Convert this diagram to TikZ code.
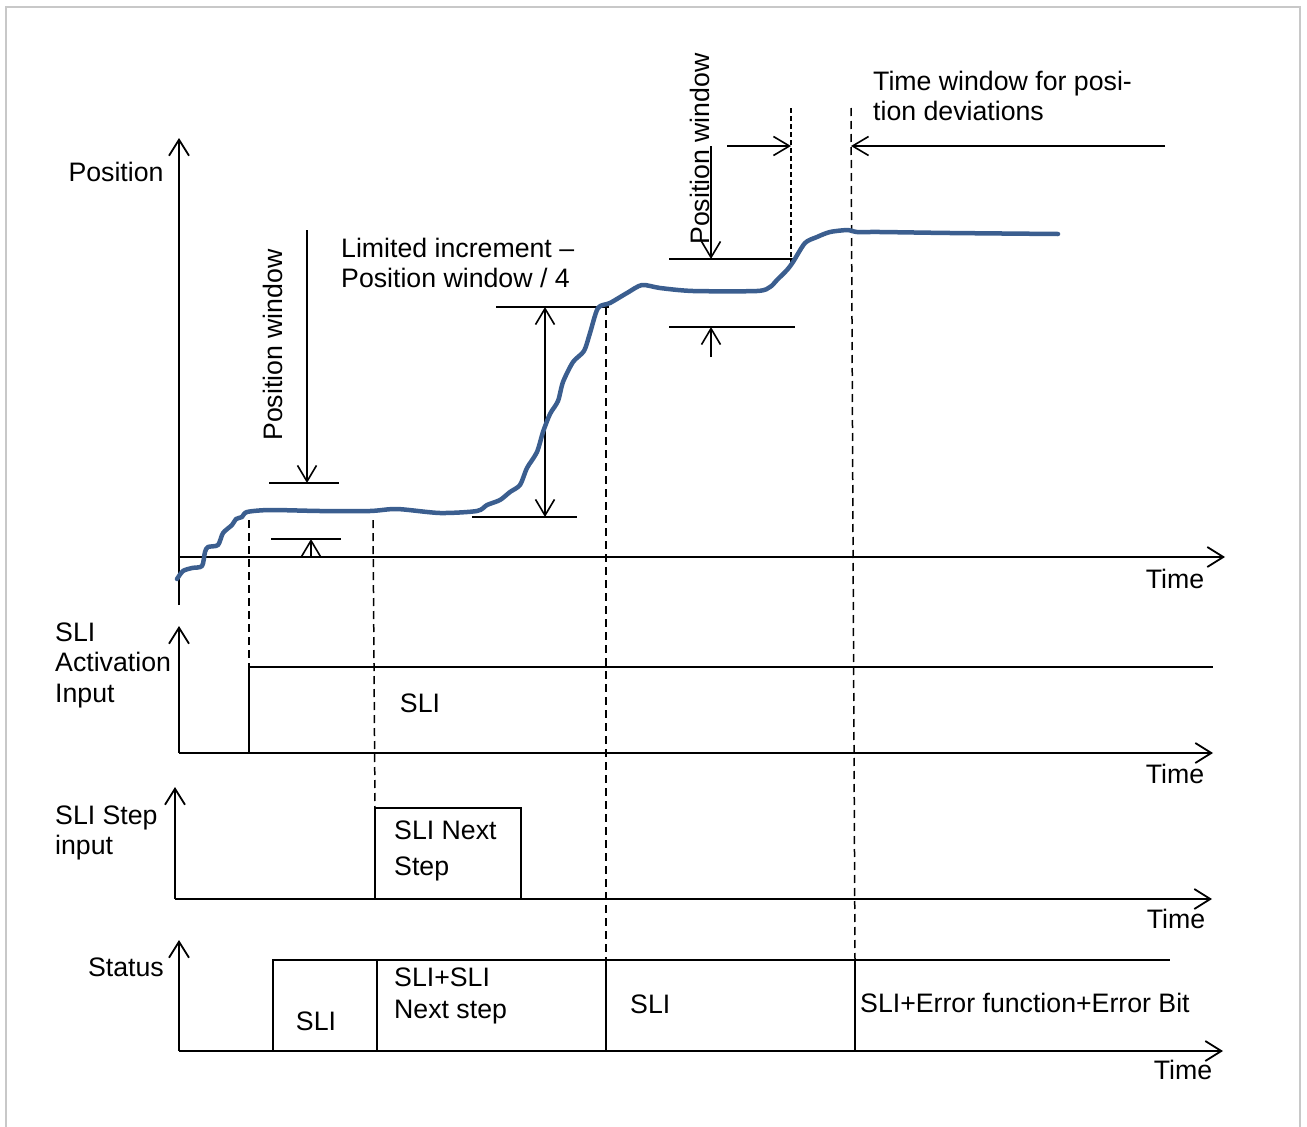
\documentclass[tikz,border=0pt]{standalone}
\usepackage{fontspec}
\setmainfont{Liberation Sans}
\usetikzlibrary{arrows.meta}
\definecolor{curveblue}{RGB}{59,94,143}
\definecolor{framegray}{RGB}{200,200,200}
\begin{document}
\begin{tikzpicture}[x=1pt,y=-1pt,
  axis/.style={line width=2pt,-{Straight Barb[length=16pt,width=20pt,line width=1.8pt]}},
  tickline/.style={line width=1.6pt},
  dimarrow/.style={line width=1.6pt,-{Straight Barb[length=16pt,width=19pt,line width=1.6pt]}},
  dimboth/.style={line width=1.6pt,{Straight Barb[length=16pt,width=19pt,line width=1.6pt]}-{Straight Barb[length=16pt,width=19pt,line width=1.6pt]}},
  guide/.style={line width=1.5pt,dash pattern=on 8pt off 5pt},
  fineguide/.style={line width=1.3pt,dash pattern=on 5pt off 3pt},
  signal/.style={line width=2pt},
  thinsignal/.style={line width=1.6pt},
  lbl/.style={inner sep=0pt,font=\fontsize{26.7}{30.5}\selectfont},
]
\useasboundingbox (0,0) rectangle (1307,1127);
\draw[framegray,line width=2pt] (6,1127) -- (6,7) -- (1300,7) -- (1300,1127);

% ---------- coordinates: position chart ----------
\coordinate (pBot) at (179,605);
\coordinate (pTop) at (179,138);
\coordinate (pO) at (179,557);
\coordinate (pEnd) at (1225,557);
% left position window
\coordinate (w1s) at (307,230);
\coordinate (w1e) at (307,483);
\coordinate (w1tl) at (269,483);
\coordinate (w1tr) at (339,483);
\coordinate (w1bl) at (271,539);
\coordinate (w1br) at (341,539);
\coordinate (w1us) at (311,557);
\coordinate (w1ue) at (311,539);
% limited increment
\coordinate (liTl) at (496,307);
\coordinate (liTr) at (609,307);
\coordinate (liBl) at (472,517);
\coordinate (liBr) at (577,517);
\coordinate (liT) at (545,307);
\coordinate (liB) at (545,517);
% right position window
\coordinate (w2tl) at (669,259);
\coordinate (w2tr) at (793,259);
\coordinate (w2s) at (711,146);
\coordinate (w2e) at (711,259);
\coordinate (w2bl) at (669,327);
\coordinate (w2br) at (795,327);
\coordinate (w2us) at (711,357);
\coordinate (w2ue) at (711,327);
% time window
\coordinate (twLs) at (727,146);
\coordinate (twLe) at (791,146);
\coordinate (twRs) at (1165,146);
\coordinate (twRe) at (851,146);
% guides
\coordinate (g1a) at (249,520);
\coordinate (g2a) at (373,520);
\coordinate (g3a) at (606,307);
\coordinate (g4a) at (851,108);
\coordinate (g5a) at (791,108);
\coordinate (g5b) at (791,265);

% ---------- coordinates: SLI activation ----------
\coordinate (aO) at (179,753);
\coordinate (aTop) at (179,626);
\coordinate (aEnd) at (1213,753);
\coordinate (aRise0) at (249,753);
\coordinate (aRise1) at (249,667);
\coordinate (aHighEnd) at (1213,667);

% ---------- coordinates: SLI step ----------
\coordinate (sO) at (175,899);
\coordinate (sTop) at (175,787);
\coordinate (sEnd) at (1212,899);
\coordinate (sR0) at (375,899);
\coordinate (sR1) at (375,808);
\coordinate (sF1) at (521,808);
\coordinate (sF0) at (521,899);

% ---------- coordinates: status ----------
\coordinate (tO) at (179,1051);
\coordinate (tTop) at (179,940);
\coordinate (tEnd) at (1223,1051);
\coordinate (tTopL) at (273,960);
\coordinate (tTopR) at (1170,960);
\coordinate (tA0) at (273,1051);
\coordinate (tB1) at (377,960);
\coordinate (tB0) at (377,1051);
\coordinate (tC1) at (606,960);
\coordinate (tC0) at (606,1051);
\coordinate (tD1) at (855,960);
\coordinate (tD0) at (855,1051);

% ---------- position chart ----------
\draw[axis] (pBot) -- (pTop);
\draw[axis] (pO) -- (pEnd);

\draw[dimarrow] (w1s) -- (w1e);
\draw[tickline] (w1tl) -- (w1tr);
\draw[tickline] (w1bl) -- (w1br);
\draw[dimarrow] (w1us) -- (w1ue);

\draw[tickline] (liTl) -- (liTr);
\draw[tickline] (liBl) -- (liBr);
\draw[dimboth] (liT) -- (liB);

\draw[tickline] (w2tl) -- (w2tr);
\draw[dimarrow] (w2s) -- (w2e);
\draw[tickline] (w2bl) -- (w2br);
\draw[dimarrow] (w2us) -- (w2ue);

\draw[dimarrow] (twLs) -- (twLe);
\draw[dimarrow] (twRs) -- (twRe);

\draw[guide] (g1a) -- (aRise1);
\draw[guide] (g2a) -- (sR1);
\draw[guide] (g3a) -- (tC1);
\draw[guide] (g4a) -- (tD1);
\draw[fineguide] (g5a) -- (g5b);

\draw[curveblue,line width=4.5pt,line join=round,line cap=round]
  plot[smooth,tension=0.45] coordinates {
  (177,579) (183,571) (192,568) (202,566) (205,552) (208,547) (218,545)
  (223,533) (232,525) (236,519) (242,517) (247,512) (270,510) (320,511)
  (370,511) (397,509) (440,513) (477,511) (487,505) (500,500) (510,492)
  (520,485) (527,468) (537,452) (543,432) (550,414) (558,401) (563,382)
  (573,362) (584,351) (590,333) (598,308) (610,303) (627,293) (642,285)
  (660,288) (693,291) (757,291) (770,287) (777,280) (787,270) (793,262)
  (805,243) (817,237) (830,232) (848,230) (857,232) (880,232) (950,233)
  (1058,234)};

\node[lbl] (lPos) at (116,172) {Position};
\node[lbl,rotate=90] (lPw1) at (273,345) {Position window};
\node[lbl,rotate=90] (lPw2) at (700,149) {Position window};
\node[lbl,anchor=west,align=left] (lLim) at (341,263) {Limited increment --\\Position window / 4};
\node[lbl,anchor=west,align=left] (lTw) at (873,96) {Time window for posi-\\tion deviations};
\node[lbl] (lT1) at (1175,579) {Time};

% ---------- SLI activation ----------
\draw[axis] (aO) -- (aTop);
\draw[axis] (aO) -- (aEnd);
\draw[signal] (aRise0) -- (aRise1) -- (aHighEnd);
\node[lbl,anchor=west,align=left] (lAct) at (55,665) {SLI\\Activation\\Input};
\node[lbl] (lSli1) at (420,703) {SLI};
\node[lbl] (lT2) at (1175,774) {Time};

% ---------- SLI step ----------
\draw[axis] (sO) -- (sTop);
\draw[axis] (sO) -- (sEnd);
\draw[signal] (sR0) -- (sR1) -- (sF1) -- (sF0);
\node[lbl,anchor=west,align=left] (lStep) at (55,833) {SLI Step\\input};
\node[lbl,anchor=west,align=left,font=\fontsize{26.7}{36}\selectfont] (lNext) at (394,851) {SLI Next\\Step};
\node[lbl] (lT3) at (1176,919) {Time};

% ---------- status ----------
\draw[axis] (tO) -- (tTop);
\draw[axis] (tO) -- (tEnd);
\draw[signal] (tA0) -- (tTopL) -- (tTopR);
\draw[thinsignal] (tB1) -- (tB0);
\draw[thinsignal] (tC1) -- (tC0);
\draw[thinsignal] (tD1) -- (tD0);
\node[lbl] (lStat) at (126,967) {Status};
\node[lbl] (lS1) at (316,1021) {SLI};
\node[lbl,anchor=west,align=left,font=\fontsize{26.7}{32}\selectfont] (lS2) at (394,996) {SLI+SLI\\Next step};
\node[lbl,anchor=west] (lS3) at (630,1004) {SLI};
\node[lbl,anchor=west] (lS4) at (860,1003) {SLI+Error function+Error Bit};
\node[lbl] (lT4) at (1183,1070) {Time};
\end{tikzpicture}
\end{document}
